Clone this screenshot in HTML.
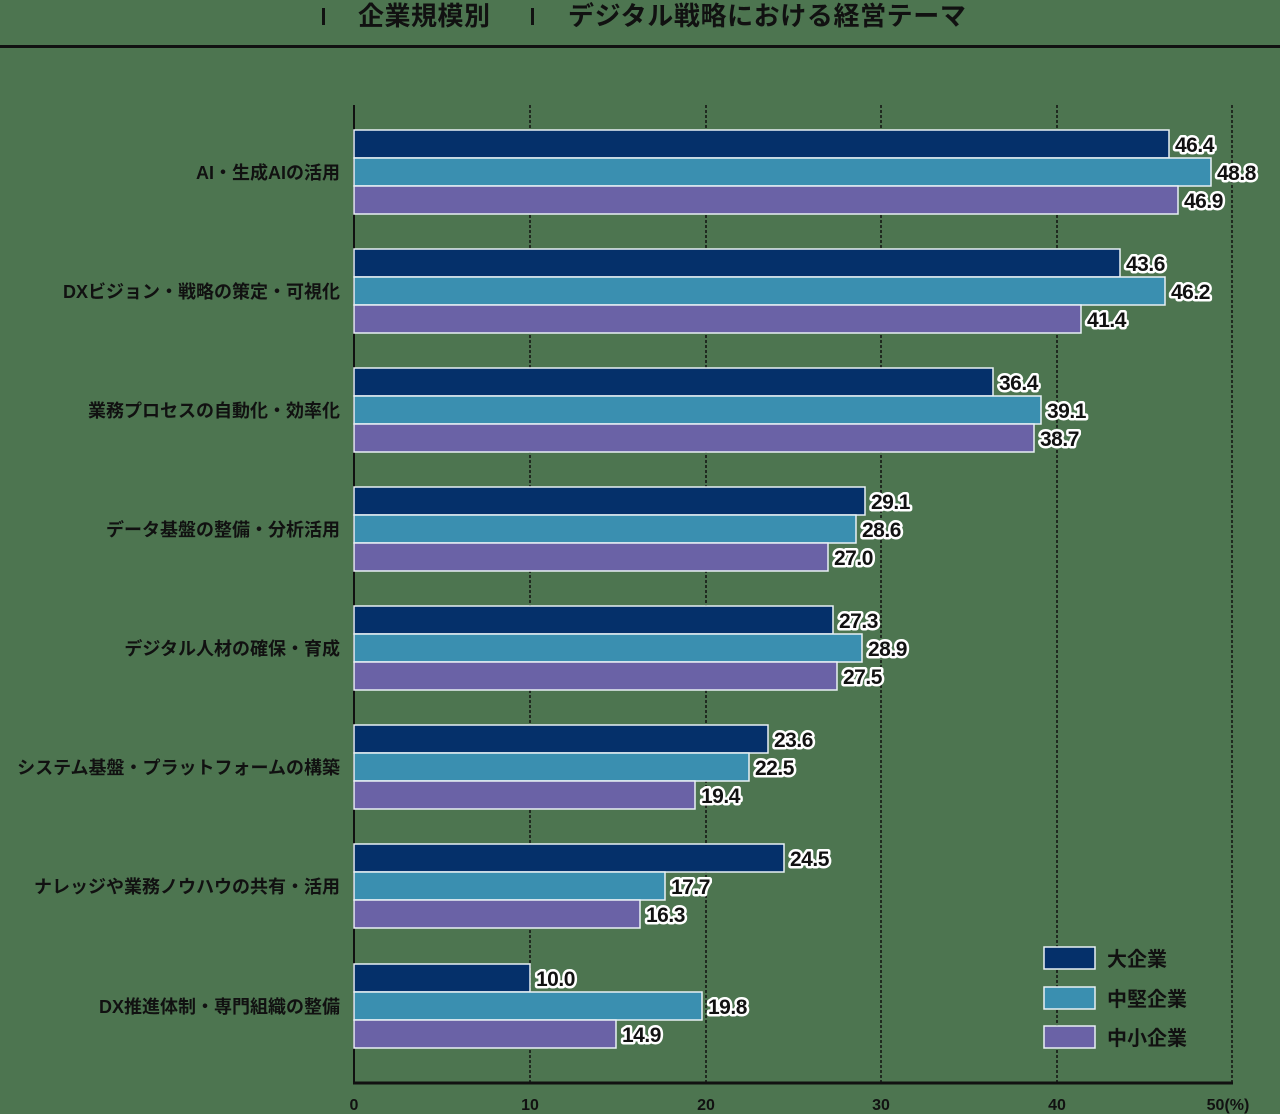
<!DOCTYPE html><html><head><meta charset="utf-8"><style>body{margin:0;background:#4d7550}svg{display:block}</style></head><body>
<svg width="1280" height="1114" xmlns="http://www.w3.org/2000/svg" font-family="Liberation Sans, Noto Sans CJK JP, sans-serif" font-weight="bold">
<rect width="1280" height="1114" fill="#4d7550"/>
<g fill="#111" font-size="26">
<rect x="322" y="8" width="3" height="17"/><text x="358" y="25" letter-spacing="0.5">企業規模別</text>
<rect x="531" y="8" width="3" height="17"/><text x="568" y="25" letter-spacing="0.6">デジタル戦略における経営テーマ</text>
</g>
<rect x="0" y="45" width="1280" height="3" fill="#111"/>
<g stroke="#111" stroke-width="1.5" stroke-dasharray="3,2">
<line x1="530" y1="105" x2="530" y2="1083"/><line x1="706" y1="105" x2="706" y2="1083"/><line x1="881" y1="105" x2="881" y2="1083"/><line x1="1057" y1="105" x2="1057" y2="1083"/><line x1="1232" y1="105" x2="1232" y2="1083"/>
</g>
<line x1="354" y1="105" x2="354" y2="1084" stroke="#111" stroke-width="2"/>
<line x1="353" y1="1083" x2="1233" y2="1083" stroke="#111" stroke-width="3"/>
<g stroke="#e8f0f4" stroke-width="1.5">
<rect x="354" y="130" width="815" height="28" fill="#05306a"/><rect x="354" y="158" width="857" height="28" fill="#3a8fb0"/><rect x="354" y="186" width="824" height="28" fill="#6a62a6"/>
<rect x="354" y="249" width="766" height="28" fill="#05306a"/><rect x="354" y="277" width="811" height="28" fill="#3a8fb0"/><rect x="354" y="305" width="727" height="28" fill="#6a62a6"/>
<rect x="354" y="368" width="639" height="28" fill="#05306a"/><rect x="354" y="396" width="687" height="28" fill="#3a8fb0"/><rect x="354" y="424" width="680" height="28" fill="#6a62a6"/>
<rect x="354" y="487" width="511" height="28" fill="#05306a"/><rect x="354" y="515" width="502" height="28" fill="#3a8fb0"/><rect x="354" y="543" width="474" height="28" fill="#6a62a6"/>
<rect x="354" y="606" width="479" height="28" fill="#05306a"/><rect x="354" y="634" width="508" height="28" fill="#3a8fb0"/><rect x="354" y="662" width="483" height="28" fill="#6a62a6"/>
<rect x="354" y="725" width="414" height="28" fill="#05306a"/><rect x="354" y="753" width="395" height="28" fill="#3a8fb0"/><rect x="354" y="781" width="341" height="28" fill="#6a62a6"/>
<rect x="354" y="844" width="430" height="28" fill="#05306a"/><rect x="354" y="872" width="311" height="28" fill="#3a8fb0"/><rect x="354" y="900" width="286" height="28" fill="#6a62a6"/>
<rect x="354" y="964" width="176" height="28" fill="#05306a"/><rect x="354" y="992" width="348" height="28" fill="#3a8fb0"/><rect x="354" y="1020" width="262" height="28" fill="#6a62a6"/>
</g>
<g font-size="21" fill="#111" stroke="#fff" stroke-width="5" paint-order="stroke" stroke-linejoin="round" letter-spacing="-0.5">
<text x="1175" y="152">46.4</text><text x="1217" y="180">48.8</text><text x="1184" y="208">46.9</text>
<text x="1126" y="271">43.6</text><text x="1171" y="299">46.2</text><text x="1087" y="327">41.4</text>
<text x="999" y="390">36.4</text><text x="1047" y="418">39.1</text><text x="1040" y="446">38.7</text>
<text x="871" y="509">29.1</text><text x="862" y="537">28.6</text><text x="834" y="565">27.0</text>
<text x="839" y="628">27.3</text><text x="868" y="656">28.9</text><text x="843" y="684">27.5</text>
<text x="774" y="747">23.6</text><text x="755" y="775">22.5</text><text x="701" y="803">19.4</text>
<text x="790" y="866">24.5</text><text x="671" y="894">17.7</text><text x="646" y="922">16.3</text>
<text x="536" y="986">10.0</text><text x="708" y="1014">19.8</text><text x="622" y="1042">14.9</text>
</g>
<g font-size="18" fill="#111" text-anchor="end">
<text x="340" y="179">AI・生成AIの活用</text>
<text x="340" y="298">DXビジョン・戦略の策定・可視化</text>
<text x="340" y="417">業務プロセスの自動化・効率化</text>
<text x="340" y="536">データ基盤の整備・分析活用</text>
<text x="340" y="655">デジタル人材の確保・育成</text>
<text x="340" y="774">システム基盤・プラットフォームの構築</text>
<text x="340" y="893">ナレッジや業務ノウハウの共有・活用</text>
<text x="340" y="1013">DX推進体制・専門組織の整備</text>
</g>
<g font-size="16" fill="#111" text-anchor="middle">
<text x="354" y="1110">0</text><text x="530" y="1110">10</text><text x="706" y="1110">20</text><text x="881" y="1110">30</text><text x="1057" y="1110">40</text><text x="1228" y="1110">50(%)</text>
</g>
<g stroke="#e8f0f4" stroke-width="1.5">
<rect x="1044" y="947" width="51" height="22" fill="#05306a"/>
<rect x="1044" y="987" width="51" height="22" fill="#3a8fb0"/>
<rect x="1044" y="1026" width="51" height="22" fill="#6a62a6"/>
</g>
<g font-size="20" fill="#111">
<text x="1107" y="966">大企業</text><text x="1107" y="1006">中堅企業</text><text x="1107" y="1045">中小企業</text>
</g>
</svg></body></html>
